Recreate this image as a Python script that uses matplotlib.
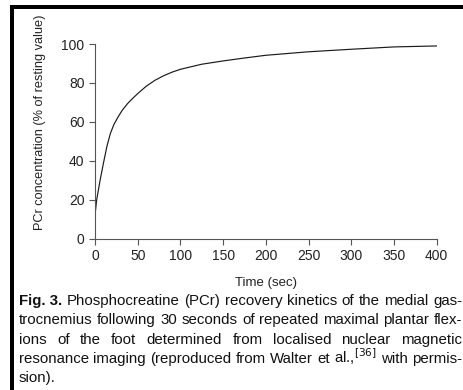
import matplotlib
matplotlib.use("Agg")
import matplotlib.pyplot as plt
from matplotlib.patches import Rectangle

plt.rcParams['font.family'] = ['Liberation Sans', 'DejaVu Sans']

# PCr recovery curve
time_sec = [0, 0.5, 2, 6, 10, 14, 18, 22, 27, 32, 38, 44, 50, 60, 70, 80, 90,
            100, 125, 150, 175, 200, 250, 300, 350, 400]
pcr_pct = [10, 14, 20, 30, 39, 47.5, 54, 58.5, 62.5, 66, 69.3, 72, 74.5, 78.3,
           81.3, 83.6, 85.5, 87, 89.6, 91.3, 92.8, 94.2, 96, 97.3, 98.5, 99]

x_ticks = [0, 50, 100, 150, 200, 250, 300, 350, 400]
y_ticks = [0, 20, 40, 60, 80, 100]

caption_lines = [
    "Phosphocreatine (PCr) recovery kinetics of the medial gas-",
    "trocnemius following 30 seconds of repeated maximal plantar flex-",
    "ions of the foot determined from localised nuclear magnetic",
    "resonance imaging (reproduced from Walter et al.,$^{[36]}$ with permis-",
    "sion).",
]

W, H = 463, 390
fig = plt.figure(figsize=(W / 100, H / 100), dpi=100)
ax = fig.add_axes([95 / W, 1 - 238.5 / H, (436.7 - 95) / W, (238.5 - 44) / H])

ax.plot(time_sec, pcr_pct, color='#1a1a1a', lw=0.85)
ax.set_xlim(0, 400)
ax.set_ylim(0, 100)
ax.set_xticks(x_ticks)
ax.set_yticks(y_ticks)
for s in ['top', 'right']:
    ax.spines[s].set_visible(False)
for s in ['left', 'bottom']:
    ax.spines[s].set_color('#555555')
    ax.spines[s].set_linewidth(0.8)
ax.tick_params(direction='out', length=4.5, width=0.8, color='#555555',
               labelsize=10, labelcolor='#222222', pad=3)
ax.set_xlabel('Time (sec)', fontsize=9.5, color='#222222')
ax.set_ylabel('PCr concentration (% of resting value)', fontsize=9.2,
              color='#222222')
ax.xaxis.set_label_coords(0.5, -0.2)
ax.yaxis.set_label_coords(-0.142, 0.60)

# black frame edges from the scanned page
fig.add_artist(Rectangle((10 / W, 1 - 9 / H), 1, 4 / H, transform=fig.transFigure,
                         color='black', lw=0))
fig.add_artist(Rectangle((10 / W, 0), 4 / W, 1 - 5 / H, transform=fig.transFigure,
                         color='black', lw=0))

# justified caption
fig.canvas.draw()
r = fig.canvas.get_renderer()
left, right = 19, 462
top = 305
step = 19.3
fs = 10.8
for i, line in enumerate(caption_lines):
    y = 1 - (top + i * step) / H
    words = line.split(' ')
    items = []
    if i == 0:
        items.append(('Fig. 3.', 'bold'))
    items += [(w, 'normal') for w in words]
    texts = []
    for w, wt in items:
        t = fig.text(0, y, w, fontsize=fs, fontweight=wt, color='#111111',
                     va='baseline', ha='left')
        texts.append(t)
    widths = [t.get_window_extent(r).width for t in texts]
    last = i == len(caption_lines) - 1
    if last:
        gap = 3.5
    else:
        gap = (right - left - sum(widths)) / (len(texts) - 1)
    x = left
    for t, w in zip(texts, widths):
        t.set_x(x / W)
        x += w + gap

fig.savefig('out.png', dpi=100)
